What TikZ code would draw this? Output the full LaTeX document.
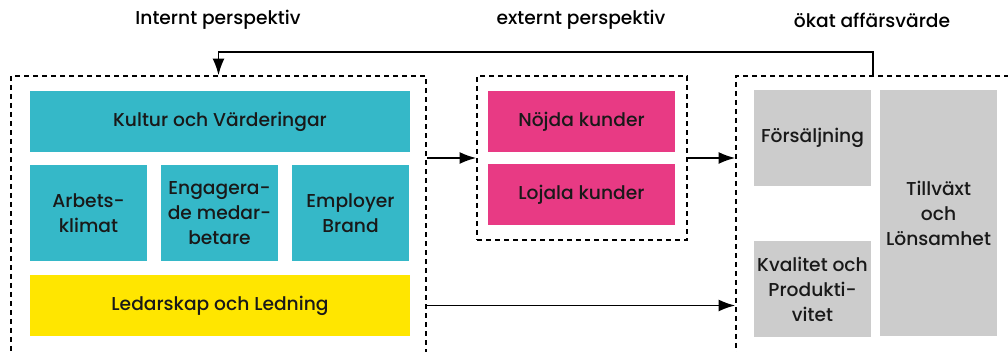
\documentclass[tikz,border=0pt]{standalone}
\usepackage{fontspec}
\IfFontExistsTF{Poppins Medium}{\setmainfont{Poppins Medium}}{\setmainfont{Poppins}}
\usetikzlibrary{positioning,arrows.meta}
\definecolor{inrefarg}{RGB}{53,184,200}
\definecolor{kundfarg}{RGB}{232,58,132}
\definecolor{ledfarg}{RGB}{255,230,0}
\definecolor{vardefarg}{RGB}{204,204,204}
\tikzset{>={Latex[length=12.5pt,width=9pt]}}

\begin{document}
\begin{tikzpicture}[x=0.75pt,y=-0.75pt]
    \fontsize{14}{18.75}\selectfont
    \tikzset{
    box/.style={inner sep=0pt, align=center, text=black!90},
    wide/.style={box, minimum width=285pt, minimum height=45.75pt},
    small/.style={box, minimum width=87.75pt, minimum height=72pt},
    kund/.style={box, fill=kundfarg, minimum width=140.25pt, minimum height=45.75pt},
    group/.style={draw, dashed, line width=1.2pt, dash pattern=on 3.75pt off 3pt, inner sep=0pt},
    pil/.style={->, line width=1.2pt},
    }
    \useasboundingbox (0,0) rectangle (1008,352);
    \clip (0,0) rectangle (1008,352);

    % Headings.
    \node (h-intern) at (218,20) {Internt perspektiv};
    \node (h-extern) at (581,20) {externt perspektiv};
    \node (h-affar)  at (872,20) {ökat affärsvärde};

    % Dashed groups (cut at the lower and right edge).
    \node [group, minimum width=311.25pt, minimum height=228pt] (intern) at (218.5,228) {};
    \node [group, minimum width=157.5pt,  minimum height=123pt] (extern) at (582,158)   {};
    \node [group, minimum width=228pt,    minimum height=228pt] (affar)  at (888,228)   {};

    % Internt perspektiv.
    \node [wide, fill=inrefarg]  (kultur)     at (220,121.5) {Kultur och Värderingar};
    \node [small, fill=inrefarg] (arbets)     at (88.5,213)  {Arbets-\\klimat};
    \node [small, fill=inrefarg] (engagerade) at (219.5,213) {Engagera-\\de medar-\\betare};
    \node [small, fill=inrefarg] (employer)   at (350.5,213) {Employer\\Brand};
    \node [wide, fill=ledfarg]   (ledarskap)  at (220,305.5) {Ledarskap och Ledning};

    % Externt perspektiv.
    \node [kund] (nojda)  at (581.5,121.5) {Nöjda kunder};
    \node [kund] (lojala) at (581.5,194.5) {Lojala kunder};

    % Ökat affärsvärde.
    \node [small, fill=vardefarg] (forsaljning) at (812.5,138) {Försäljning};
    \node [small, fill=vardefarg] (kvalitet)    at (812.5,289) {Kvalitet och\\Produkti-\\vitet};
    \node [box, fill=vardefarg, minimum width=87.75pt, minimum height=184.5pt] (tillvaxt) at (938.5,213) {Tillväxt\\och\\Lönsamhet};

    % Connections.
    \coordinate (retur) at (873,76);
    \draw [pil] (extern.west -| intern.east) -- (extern.west);
    \draw [pil] (extern.east) -- (extern.east -| affar.west);
    \draw [pil] (ledarskap.east -| intern.east) -- (ledarskap.east -| affar.west);
    \draw [pil] (retur) -- ++(0,-24) -| (intern.north);
\end{tikzpicture}
\end{document}
